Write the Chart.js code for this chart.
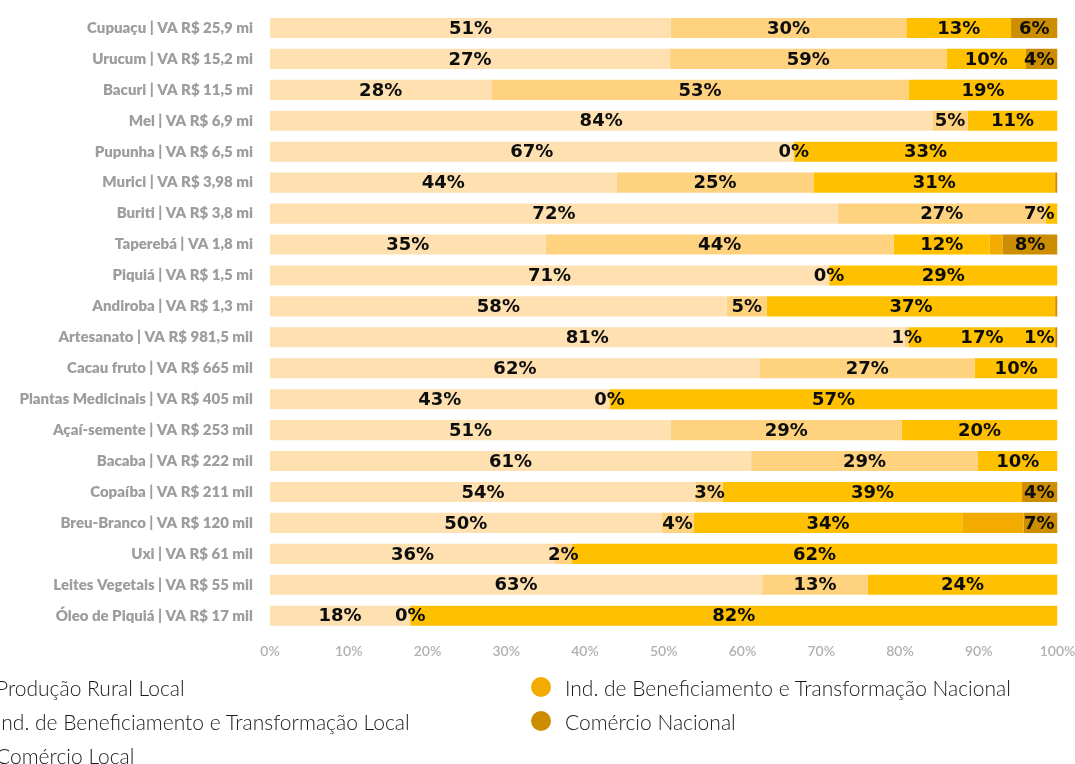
<!DOCTYPE html>
<html lang="pt-BR">
<head>
<meta charset="utf-8">
<script src="https://cdn.jsdelivr.net/npm/chart.js@4.4.1/dist/chart.umd.min.js"></script>
<style>
  html, body { margin: 0; padding: 0; background: #fff; overflow: hidden; }
  #wrap { position: relative; width: 1075px; height: 672px; }
  #legend {
    position: absolute; left: -38px; top: 670px;
    display: grid; grid-template-columns: 569px 569px;
    grid-template-rows: repeat(3, 34px); grid-auto-flow: column;
    font-family: Lato, sans-serif; font-weight: 300; font-size: 21px; color: #1a1a1a;
  }
  .item { display: flex; align-items: center; white-space: nowrap; }
  .dot { width: 20px; height: 20px; border-radius: 50%; margin-right: 14px; flex: none; }
</style>
</head>
<body>
<div id="wrap"><canvas id="barChart" width="1075" height="672"></canvas></div>
<div id="legend"></div>
<script>
// categories (top to bottom)
const categories = [
  'Cupuaçu | VA R$ 25,9 mi', 'Urucum | VA R$ 15,2 mi', 'Bacuri | VA R$ 11,5 mi',
  'Mel | VA R$ 6,9 mi', 'Pupunha | VA R$ 6,5 mi', 'Murici | VA R$ 3,98 mi',
  'Buriti | VA R$ 3,8 mi', 'Taperebá | VA 1,8 mi', 'Piquiá | VA R$ 1,5 mi',
  'Andiroba | VA R$ 1,3 mi', 'Artesanato | VA R$ 981,5 mil', 'Cacau fruto | VA R$ 665 mil',
  'Plantas Medicinais | VA R$ 405 mil', 'Açaí-semente | VA R$ 253 mil', 'Bacaba | VA R$ 222 mil',
  'Copaíba | VA R$ 211 mil', 'Breu-Branco | VA R$ 120 mil', 'Uxi | VA R$ 61 mil',
  'Leites Vegetais | VA R$ 55 mil', 'Óleo de Piquiá | VA R$ 17 mil'
];

const seriesNames = [
  'Produção Rural Local',
  'Ind. de Beneficiamento e Transformação Local',
  'Comércio Local',
  'Ind. de Beneficiamento e Transformação Nacional',
  'Comércio Nacional'
];

// bar segment widths (%)
const producaoRural   = [50.9, 50.8, 28.1, 84.1, 66.5, 44.0, 72.1, 35.0, 71.0, 58.0, 80.6, 62.2, 43.1, 50.9, 61.1, 54.1, 49.7, 36.2, 62.5, 17.8];
const indLocal        = [29.9, 35.1, 53.0, 4.5, 0, 25.0, 26.4, 44.2, 0, 5.1, 0.5, 27.3, 0, 29.3, 28.8, 3.4, 4.1, 2.1, 13.4, 0];
const comercioLocal   = [13.3, 10.1, 18.9, 11.4, 33.5, 30.7, 1.5, 12.2, 29.0, 36.6, 18.6, 10.5, 56.9, 19.8, 10.1, 38.0, 34.1, 61.7, 24.1, 82.2];
const indNacional     = [0, 0, 0, 0, 0, 0, 0, 1.6, 0, 0, 0, 0, 0, 0, 0, 0, 7.8, 0, 0, 0];
const comercioNacional = [5.9, 4.0, 0, 0, 0, 0.3, 0, 7.0, 0, 0.3, 0.3, 0, 0, 0, 0, 4.5, 4.3, 0, 0, 0];

// printed percentages on each segment (null = no label)
const lblProducaoRural = [51, 27, 28, 84, 67, 44, 72, 35, 71, 58, 81, 62, 43, 51, 61, 54, 50, 36, 63, 18];
const lblIndLocal      = [30, 59, 53, 5, 0, 25, 27, 44, 0, 5, 1, 27, 0, 29, 29, 3, 4, 2, 13, 0];
const lblComercioLocal = [13, 10, 19, 11, 33, 31, 7, 12, 29, 37, 17, 10, 57, 20, 10, 39, 34, 62, 24, 82];
const lblIndNacional   = new Array(20).fill(null);
const lblComercioNac   = [6, 4, null, null, null, null, null, 8, null, null, 1, null, null, null, null, 4, 7, null, null, null];

const xTicks = [0, 10, 20, 30, 40, 50, 60, 70, 80, 90, 100];

const colors = ['#fee0b1', '#fed27f', '#ffc000', '#f3ab00', '#cc8e00'];
const values = [producaoRural, indLocal, comercioLocal, indNacional, comercioNacional];
const printed = [lblProducaoRural, lblIndLocal, lblComercioLocal, lblIndNacional, lblComercioNac];

const data1 = {
  labels: categories,
  datasets: seriesNames.map((name, i) => ({
    label: name,
    data: values[i],
    printed: printed[i],
    backgroundColor: colors[i],
    borderWidth: 0,
    categoryPercentage: 1,
    barPercentage: 0.65
  }))
};

// percent labels centred on each segment, kept inside the bar
const barLabels = {
  id: 'barLabels',
  afterDatasetsDraw(chart) {
    const {ctx, chartArea} = chart;
    ctx.save();
    ctx.font = 'bold 18px "DejaVu Sans"';
    ctx.fillStyle = '#0d0d0d';
    ctx.textAlign = 'center';
    ctx.textBaseline = 'middle';
    chart.data.datasets.forEach((ds, i) => {
      chart.getDatasetMeta(i).data.forEach((bar, j) => {
        const v = ds.printed[j];
        if (v == null) return;
        const txt = v + '%';
        const w = ctx.measureText(txt).width;
        let x = (bar.x + bar.base) / 2;
        x = Math.min(Math.max(x, chartArea.left + w / 2 + 2), chartArea.right - w / 2 - 3);
        ctx.fillText(txt, x, bar.y + 1);
      });
    });
    ctx.restore();
  }
};

// no extra room for half tick labels at the ends of the axes
const noEdgePadding = s => { s.paddingLeft = 0; s.paddingRight = 0; s.paddingTop = 0; s.paddingBottom = 0; };

const config1 = {
  type: 'bar',
  data: data1,
  options: {
    indexAxis: 'y',
    responsive: false,
    animation: false,
    devicePixelRatio: 1,
    layout: { padding: { top: 12.5, right: 17.5, bottom: 0, left: 0 } },
    plugins: { legend: { display: false }, tooltip: { enabled: false } },
    scales: {
      x: {
        stacked: true, min: 0, max: 100,
        afterBuildTicks: s => { s.ticks = xTicks.map(v => ({value: v})); },
        afterFit: noEdgePadding,
        grid: { display: false, drawTicks: false },
        border: { display: false },
        ticks: {
          color: '#b0b0b0', padding: 12,
          font: { family: 'Lato', weight: '600', size: 14 },
          callback: v => v + '%'
        }
      },
      y: {
        stacked: true,
        grid: { display: false, drawTicks: false },
        border: { display: false },
        ticks: {
          color: '#9d9d9d', padding: 17,
          font: { family: 'Lato', weight: '800', size: 15 }
        },
        afterFit: s => { noEdgePadding(s); s.width = 270; }
      }
    }
  },
  plugins: [barLabels]
};

const ctx1 = document.getElementById('barChart').getContext('2d');
const myChart1 = new Chart(ctx1, config1);

// legend laid out in two columns, like the original
const legendBox = document.getElementById('legend');
seriesNames.forEach((name, i) => {
  const item = document.createElement('div');
  item.className = 'item';
  item.innerHTML = '<span class="dot" style="background:' + colors[i] + '"></span><span>' + name + '</span>';
  legendBox.appendChild(item);
});
</script>
</body>
</html>
